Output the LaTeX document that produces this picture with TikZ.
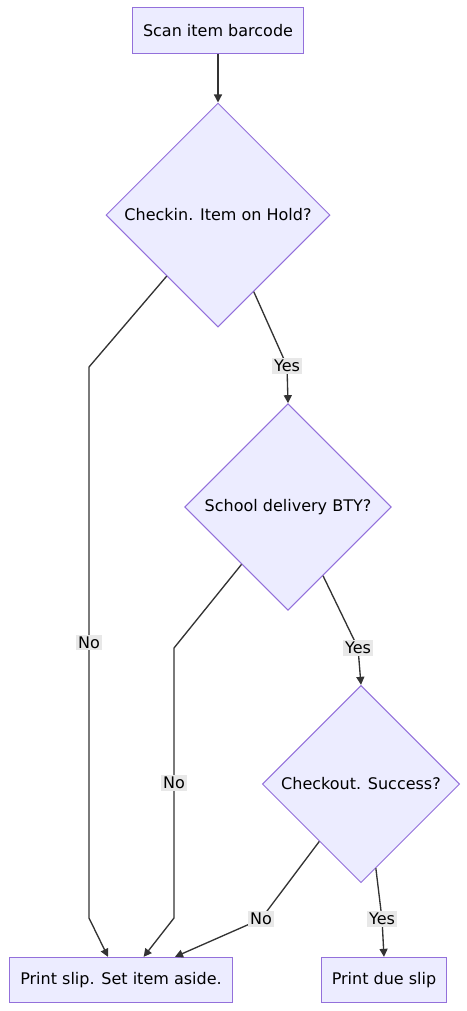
\documentclass[tikz,border=0pt]{standalone}
\usepackage{fontspec}
\setmainfont{DejaVu Sans}
\usepackage{tikz}
\usetikzlibrary{arrows.meta,positioning,calc,shapes.geometric}
\definecolor{FlowFill}{HTML}{ECECFF}
\definecolor{FlowEdge}{HTML}{9370DB}
\definecolor{FlowLine}{HTML}{333333}
\definecolor{FlowLabel}{HTML}{E8E8E8}

\begin{document}
\begin{tikzpicture}[
    x=0.75pt, y=-0.75pt,
    box/.style={
      draw=FlowEdge,
      fill=FlowFill,
      line width=0.75pt,
      minimum height=34pt,
      inner xsep=8pt,
      font=\fontsize{12}{14}\selectfont
    },
    decision/.style={
      diamond,
      aspect=1,
      draw=FlowEdge,
      fill=FlowFill,
      line width=0.75pt,
      inner sep=0pt,
      minimum size=#1,
      font=\fontsize{12}{14}\selectfont
    },
    arrow/.style={
      -{Triangle[length=6pt,width=6pt]},
      line width=1pt,
      color=FlowLine
    },
    lbl/.style={
      fill=FlowLabel,
      inner sep=1.5pt,
      text=black,
      font=\fontsize{12}{14}\selectfont
    }
  ]
  \useasboundingbox (0,0) rectangle (467,1011);

  % Start and end boxes
  \node[box] (scan) at (218,30.5) {Scan item barcode};
  \node[box] (slip) at (121,980)  {Print slip. Set item aside.};
  \node[box] (due)  at (384,980)  {Print due slip};

  % Decisions
  \node[decision=168pt] (hold)     at (218,215) {Checkin. Item on Hold?};
  \node[decision=155pt] (school)   at (288,507) {School delivery BTY?};
  \node[decision=148pt] (checkout) at (361,784) {Checkout. Success?};

  % Arrows
  \draw[arrow] (scan) -- (hold);
  \draw[arrow] (hold.230) -- (89,367) -- node[lbl] {No} (89,918)
    -- ([xshift=-9.75pt]slip.north);
  \draw[arrow] (hold.295) -- (287,366) node[lbl] {Yes} -- (school.north);
  \draw[arrow] (school.231) -- (174,648) -- node[lbl] {No} (174,918)
    -- ([xshift=17pt]slip.north);
  \draw[arrow] (school.297) -- (358,648) node[lbl] {Yes} -- (checkout.north);
  \draw[arrow] (checkout.234) -- (261,919) node[lbl] {No}
    -- ([xshift=40.5pt]slip.north);
  \draw[arrow] (checkout.280) -- (382,919) node[lbl] {Yes} -- (due.north);

\end{tikzpicture}
\end{document}
